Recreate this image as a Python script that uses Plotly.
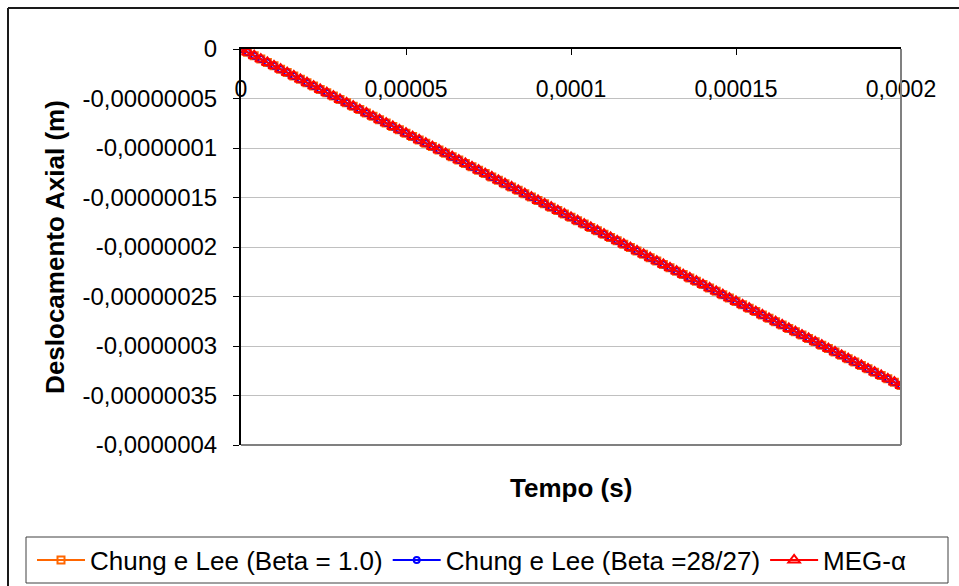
import plotly.graph_objects as go

# Time instants (microseconds)
tempo_us = [0, 2, 4, 6, 8, 10, 12, 14, 16, 18, 20, 22, 24, 26, 28, 30, 32, 34, 36, 38,
            40, 42, 44, 46, 48, 50, 52, 54, 56, 58, 60, 62, 64, 66, 68, 70, 72, 74, 76, 78,
            80, 82, 84, 86, 88, 90, 92, 94, 96, 98, 100, 102, 104, 106, 108, 110, 112, 114,
            116, 118, 120, 122, 124, 126, 128, 130, 132, 134, 136, 138, 140, 142, 144, 146,
            148, 150, 152, 154, 156, 158, 160, 162, 164, 166, 168, 170, 172, 174, 176, 178,
            180, 182, 184, 186, 188, 190, 192, 194, 196, 198, 200]

# Axial displacement (nanometres) - Chung e Lee, Beta = 1.0
desl_chung_b1_nm = [0, -3.4, -6.8, -10.2, -13.6, -17.0, -20.4, -23.8, -27.2, -30.6, -34.0,
                    -37.4, -40.8, -44.2, -47.6, -51.0, -54.4, -57.8, -61.2, -64.6, -68.0,
                    -71.4, -74.8, -78.2, -81.6, -85.0, -88.4, -91.8, -95.2, -98.6, -102.0,
                    -105.4, -108.8, -112.2, -115.6, -119.0, -122.4, -125.8, -129.2, -132.6,
                    -136.0, -139.4, -142.8, -146.2, -149.6, -153.0, -156.4, -159.8, -163.2,
                    -166.6, -170.0, -173.4, -176.8, -180.2, -183.6, -187.0, -190.4, -193.8,
                    -197.2, -200.6, -204.0, -207.4, -210.8, -214.2, -217.6, -221.0, -224.4,
                    -227.8, -231.2, -234.6, -238.0, -241.4, -244.8, -248.2, -251.6, -255.0,
                    -258.4, -261.8, -265.2, -268.6, -272.0, -275.4, -278.8, -282.2, -285.6,
                    -289.0, -292.4, -295.8, -299.2, -302.6, -306.0, -309.4, -312.8, -316.2,
                    -319.6, -323.0, -326.4, -329.8, -333.2, -336.6, -340.0]

# Chung e Lee, Beta = 28/27
desl_chung_b2827_nm = [0, -3.4, -6.8, -10.2, -13.6, -17.0, -20.4, -23.8, -27.2, -30.6, -34.0,
                       -37.4, -40.8, -44.2, -47.6, -51.0, -54.4, -57.8, -61.2, -64.6, -68.0,
                       -71.4, -74.8, -78.2, -81.6, -85.0, -88.4, -91.8, -95.2, -98.6, -102.0,
                       -105.4, -108.8, -112.2, -115.6, -119.0, -122.4, -125.8, -129.2, -132.6,
                       -136.0, -139.4, -142.8, -146.2, -149.6, -153.0, -156.4, -159.8, -163.2,
                       -166.6, -170.0, -173.4, -176.8, -180.2, -183.6, -187.0, -190.4, -193.8,
                       -197.2, -200.6, -204.0, -207.4, -210.8, -214.2, -217.6, -221.0, -224.4,
                       -227.8, -231.2, -234.6, -238.0, -241.4, -244.8, -248.2, -251.6, -255.0,
                       -258.4, -261.8, -265.2, -268.6, -272.0, -275.4, -278.8, -282.2, -285.6,
                       -289.0, -292.4, -295.8, -299.2, -302.6, -306.0, -309.4, -312.8, -316.2,
                       -319.6, -323.0, -326.4, -329.8, -333.2, -336.6, -340.0]

# MEG-alpha
desl_meg_nm = [0, -3.4, -6.8, -10.2, -13.6, -17.0, -20.4, -23.8, -27.2, -30.6, -34.0,
               -37.4, -40.8, -44.2, -47.6, -51.0, -54.4, -57.8, -61.2, -64.6, -68.0,
               -71.4, -74.8, -78.2, -81.6, -85.0, -88.4, -91.8, -95.2, -98.6, -102.0,
               -105.4, -108.8, -112.2, -115.6, -119.0, -122.4, -125.8, -129.2, -132.6,
               -136.0, -139.4, -142.8, -146.2, -149.6, -153.0, -156.4, -159.8, -163.2,
               -166.6, -170.0, -173.4, -176.8, -180.2, -183.6, -187.0, -190.4, -193.8,
               -197.2, -200.6, -204.0, -207.4, -210.8, -214.2, -217.6, -221.0, -224.4,
               -227.8, -231.2, -234.6, -238.0, -241.4, -244.8, -248.2, -251.6, -255.0,
               -258.4, -261.8, -265.2, -268.6, -272.0, -275.4, -278.8, -282.2, -285.6,
               -289.0, -292.4, -295.8, -299.2, -302.6, -306.0, -309.4, -312.8, -316.2,
               -319.6, -323.0, -326.4, -329.8, -333.2, -336.6, -340.0]

x_tickvals = [0, 0.00005, 0.0001, 0.00015, 0.0002]
x_ticktext = ["0", "0,00005", "0,0001", "0,00015", "0,0002"]
y_tickvals = [0, -5e-8, -1e-7, -1.5e-7, -2e-7, -2.5e-7, -3e-7, -3.5e-7, -4e-7]
y_ticktext = ["0", "-0,00000005", "-0,0000001", "-0,00000015", "-0,0000002",
              "-0,00000025", "-0,0000003", "-0,00000035", "-0,0000004"]

tempo = [v * 1e-6 for v in tempo_us]
to_m = lambda arr: [v * 1e-9 for v in arr]

FONT = "Liberation Sans, Arial, sans-serif"

fig = go.Figure()
fig.add_trace(go.Scatter(
    x=tempo, y=to_m(desl_chung_b1_nm), mode="lines+markers",
    name="Chung e Lee (Beta = 1.0)",
    line=dict(color="#FF6600", width=2),
    marker=dict(symbol="square-open", size=7, color="#FF6600", line=dict(width=2)),
))
fig.add_trace(go.Scatter(
    x=tempo, y=to_m(desl_chung_b2827_nm), mode="lines+markers",
    name="Chung e Lee (Beta =28/27)",
    line=dict(color="#0000FF", width=2),
    marker=dict(symbol="circle-open", size=6, color="#0000FF", line=dict(width=2)),
))
fig.add_trace(go.Scatter(
    x=tempo, y=to_m(desl_meg_nm), mode="lines+markers",
    name="MEG-α",
    line=dict(color="#FF0000", width=2),
    marker=dict(symbol="triangle-up-open", size=10, color="#FF0000", line=dict(width=2)),
))

L, R, T, B = 241, 58, 49, 141
W, H = 959, 586
pw, ph = W - L - R, H - T - B


def px_x(p):
    return (p - L) / pw


def px_y(p):
    return (H - B - p) / ph


frame = dict(color="#1a1a1a", width=2)
shapes = [
    # outer chart frame (top and left edges; the others fall past the page)
    dict(type="line", xref="paper", yref="paper",
         x0=px_x(8), x1=px_x(959), y0=px_y(8), y1=px_y(8), line=frame),
    dict(type="line", xref="paper", yref="paper",
         x0=px_x(8), x1=px_x(8), y0=px_y(8), y1=px_y(586), line=frame),
    # plot area right and bottom edges
    dict(type="line", xref="paper", yref="paper", x0=1, x1=1, y0=0, y1=1,
         line=dict(color="#808080", width=2)),
    dict(type="line", xref="paper", yref="paper", x0=0, x1=1, y0=0, y1=0,
         line=dict(color="#808080", width=2)),
    # legend frame
    dict(type="rect", xref="paper", yref="paper",
         x0=px_x(26), x1=px_x(948), y0=px_y(583), y1=px_y(537),
         line=dict(color="#404040", width=1), fillcolor="rgba(0,0,0,0)"),
]

fig.update_layout(
    width=W, height=H,
    margin=dict(l=L, r=R, t=T, b=B, pad=0, autoexpand=False),
    paper_bgcolor="white", plot_bgcolor="white",
    font=dict(family=FONT, size=23, color="black"),
    showlegend=True,
    legend=dict(
        orientation="h", x=px_x(32), y=px_y(560), xanchor="left", yanchor="middle",
        font=dict(family=FONT, size=26, color="black"),
        itemwidth=48, bgcolor="rgba(0,0,0,0)", borderwidth=0, tracegroupgap=0,
    ),
    xaxis=dict(
        range=[-1e-12, 0.0002 + 1e-12], side="top", tickvals=x_tickvals, ticktext=x_ticktext,
        ticks="inside", ticklen=6, tickcolor="black", tickwidth=1,
        ticklabelposition="inside", ticklabelstandoff=28, ticklabeloverflow="allow",
        showline=True, linecolor="black", linewidth=2,
        showgrid=False, zeroline=False, automargin=False,
        tickfont=dict(family=FONT, size=23, color="black"),
    ),
    yaxis=dict(
        range=[-4e-7, 1e-15], tickvals=y_tickvals, ticktext=y_ticktext,
        ticks="outside", ticklen=6, tickcolor="black", tickwidth=1,
        ticklabelstandoff=11, ticklabeloverflow="allow",
        showline=True, linecolor="black", linewidth=2,
        showgrid=True, gridcolor="#C0C0C0", gridwidth=1, zeroline=False, automargin=False,
        tickfont=dict(family=FONT, size=24, color="black"),
        title=dict(text="<b>Deslocamento Axial (m)</b>", font=dict(family=FONT, size=26),
                   standoff=10),
    ),
    shapes=shapes,
    annotations=[dict(
        text="<b>Tempo (s)</b>", xref="paper", yref="paper",
        x=px_x(571), y=px_y(488), xanchor="center", yanchor="middle",
        showarrow=False, font=dict(family=FONT, size=26, color="black"),
    )],
)

fig.write_html("out.html")
